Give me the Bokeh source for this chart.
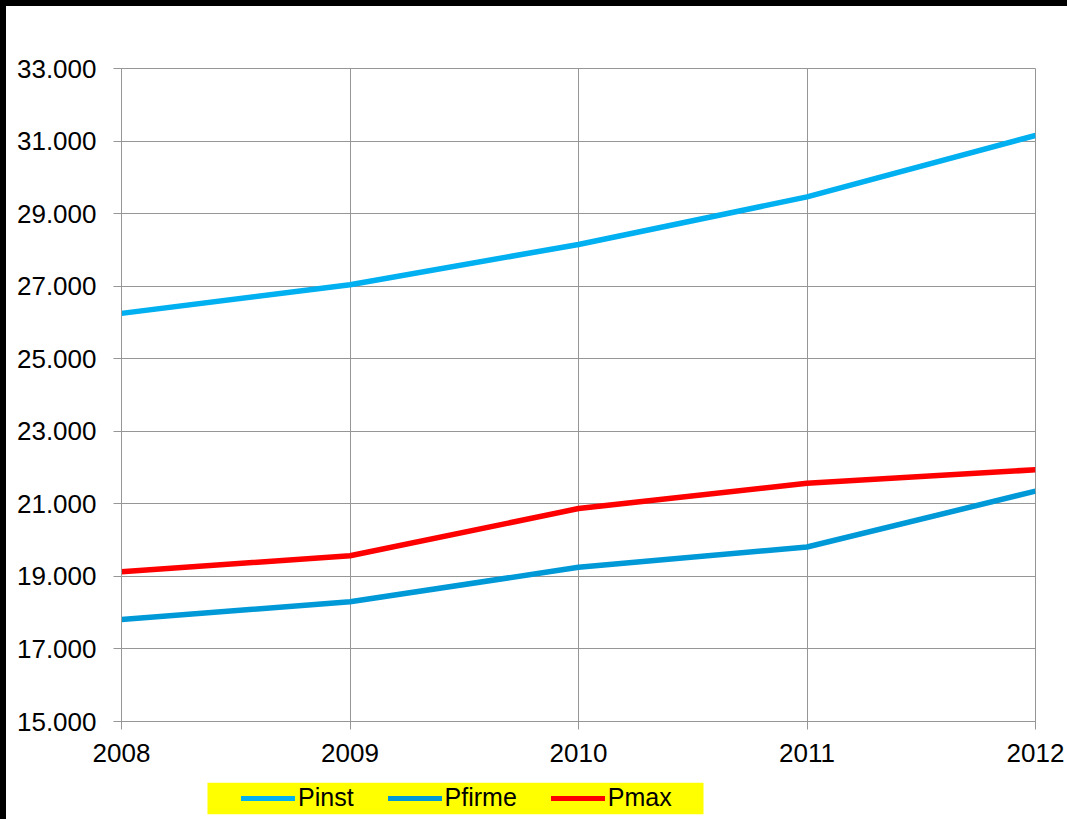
from bokeh.plotting import figure
from bokeh.layouts import column
from bokeh.models import Range1d, FixedTicker, Legend, LegendItem, BoxAnnotation
from bokeh.embed import file_html
from bokeh.resources import INLINE

years = [2008, 2009, 2010, 2011, 2012]
pinst = [26250, 27040, 28150, 29460, 31155]
pfirme = [17810, 18300, 19250, 19810, 21350]
pmax = [19130, 19570, 20870, 21570, 21940]

series_names = ["Pinst", "Pfirme", "Pmax"]
series_values = [pinst, pfirme, pmax]
series_colors = ["#00B0F0", "#0099D8", "#FF0000"]

y_ticks = [15000, 17000, 19000, 21000, 23000, 25000, 27000, 29000, 31000, 33000]
y_tick_labels = ["15.000", "17.000", "19.000", "21.000", "23.000",
                 "25.000", "27.000", "29.000", "31.000", "33.000"]
x_tick_labels = ["2008", "2009", "2010", "2011", "2012"]

FONT = "Liberation Sans"
GRID = "#969696"

# ---- main chart ----
p = figure(width=1067, height=776, output_backend="svg", toolbar_location=None,
           x_range=Range1d(years[0], years[-1]), y_range=Range1d(y_ticks[0], y_ticks[-1]),
           min_border_left=115, min_border_right=38, min_border_top=62, min_border_bottom=61)
p.styles = {"border-top": "6px solid black", "border-left": "6px solid black"}
p.background_fill_color = "white"
p.border_fill_color = "white"
p.outline_line_color = GRID
p.outline_line_width = 1

for ax in (p.xaxis[0], p.yaxis[0]):
    ax.axis_line_color = GRID
    ax.axis_line_width = 1
    ax.major_tick_line_color = GRID
    ax.major_tick_out = 8
    ax.major_tick_in = 0
    ax.minor_tick_line_color = None
    ax.major_label_text_font = FONT
    ax.major_label_text_font_size = "26px"
    ax.major_label_text_color = "black"

p.xaxis.ticker = FixedTicker(ticks=years)
p.xaxis.major_label_overrides = {y: l for y, l in zip(years, x_tick_labels)}
p.xaxis.major_label_standoff = 14
p.yaxis.ticker = FixedTicker(ticks=y_ticks)
p.yaxis.major_label_overrides = {t: l for t, l in zip(y_ticks, y_tick_labels)}
p.yaxis.major_label_standoff = 17

p.xgrid.ticker = FixedTicker(ticks=years)
p.ygrid.ticker = FixedTicker(ticks=y_ticks)
for g in (p.xgrid[0], p.ygrid[0]):
    g.grid_line_color = GRID
    g.grid_line_width = 1

for name, vals, col in zip(series_names, series_values, series_colors):
    p.line(years, vals, line_color=col, line_width=5.5)

# ---- legend strip (second small figure, same horizontal borders) ----
p2 = figure(width=1067, height=43, output_backend="svg", toolbar_location=None,
            x_range=Range1d(0, 1), y_range=Range1d(0, 1),
            x_axis_type=None, y_axis_type=None,
            min_border_left=115, min_border_right=38, min_border_top=6, min_border_bottom=5)
p2.styles = {"border-left": "6px solid black"}
p2.background_fill_color = "white"
p2.border_fill_color = "white"
p2.outline_line_color = None
p2.grid.visible = False

box = BoxAnnotation(left=86, right=582, bottom=0, top=32,
                    left_units="screen", right_units="screen",
                    bottom_units="screen", top_units="screen",
                    fill_color="#FFFF00", fill_alpha=1.0, line_color=None, level="underlay")
p2.add_layout(box)

legend_renderers = []
for name, vals, col in zip(series_names, series_values, series_colors):
    # same series, outside this strip's ranges: only their legend glyphs show
    r = p2.line(years, vals, line_color=col, line_width=5, line_cap="round")
    legend_renderers.append(r)

legend = Legend(items=[LegendItem(label=n, renderers=[r]) for n, r in zip(series_names, legend_renderers)],
                orientation="horizontal", location=(120, 2),
                background_fill_alpha=0, border_line_color=None,
                padding=0, margin=0, spacing=34, glyph_width=54, glyph_height=20,
                label_standoff=3, label_text_font=FONT, label_text_font_size="25px",
                label_text_color="black")
p2.add_layout(legend, "center")

layout = column(p, p2, spacing=0)
open("out.html", "w").write(file_html(layout, INLINE))
